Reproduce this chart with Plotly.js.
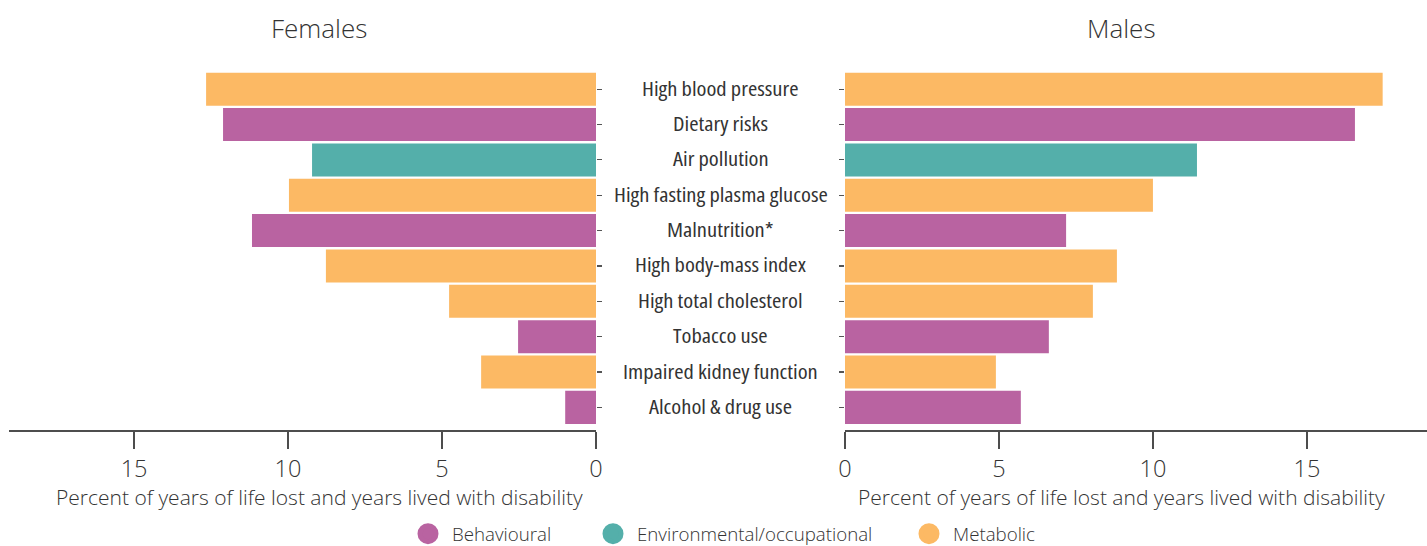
<!DOCTYPE html>
<html>
<head>
<meta charset="utf-8">
<script src="https://cdn.plot.ly/plotly-3.0.1.min.js"></script>
<style>
html,body{margin:0;padding:0;background:#fff;}
#chart{width:1427px;height:546px;}
text[style*="XCond"]{font-stretch:condensed;transform-box:fill-box;transform-origin:center;transform:scaleX(1.1);}
</style>
</head>
<body>
<div id="chart"></div>
<script>
// ---- data ----
var categories = ['High blood pressure','Dietary risks','Air pollution','High fasting plasma glucose','Malnutrition*','High body-mass index','High total cholesterol','Tobacco use','Impaired kidney function','Alcohol & drug use'];
var riskGroups = ['Metabolic','Behavioural','Environmental/occupational','Metabolic','Behavioural','Metabolic','Metabolic','Behavioural','Metabolic','Behavioural'];
var females = [12.66, 12.11, 9.22, 9.97, 11.17, 8.77, 4.77, 2.53, 3.73, 1.0];
var males = [17.46, 16.56, 11.43, 10.0, 7.18, 8.83, 8.05, 6.62, 4.9, 5.71];
var groupNames = ['Behavioural','Environmental/occupational','Metabolic'];
var panelTitles = ['Females','Males'];
var axisTitle = 'Percent of years of life lost and years lived with disability';
var xTicks = [0, 5, 10, 15];

var groupColors = {'Behavioural':'#B963A1','Environmental/occupational':'#54AFAA','Metabolic':'#FCB964'};
var barColors = riskGroups.map(function(g){return groupColors[g];});

var W = 1427, H = 546;
function px(x){return x / W;}
function py(y){return 1 - y / H;}

var lightFont = 'Open Sans, Lato, sans-serif';
var labelFont = '"Open Sans", XCond, "DejaVu Sans Condensed", sans-serif';

var traces = [
  {type:'bar', orientation:'h', x:females, y:categories, xaxis:'x', yaxis:'y',
   marker:{color:barColors, line:{width:0}}, showlegend:false, hoverinfo:'x+y'},
  {type:'bar', orientation:'h', x:males, y:categories, xaxis:'x2', yaxis:'y2',
   marker:{color:barColors, line:{width:0}}, showlegend:false, hoverinfo:'x+y'}
];
var legendIds = ['legend','legend2','legend3'];
var legendX = [404, 589, 905];
groupNames.forEach(function(g, i){
  traces.push({type:'scatter', mode:'markers', x:[null], y:[null], xaxis:'x', yaxis:'y',
    name:g, legend:legendIds[i],
    marker:{color:groupColors[g], size:16, symbol:'circle', line:{color:groupColors[g], width:5}},
    showlegend:true, hoverinfo:'skip'});
});

var tickFont = {family:lightFont, size:23.5, color:'#333', weight:300};
var xCommon = {
  showgrid:false, zeroline:false, showline:true, linecolor:'#4d4d4d', linewidth:2,
  ticks:'outside', ticklen:17, tickwidth:1.5, tickcolor:'#4d4d4d',
  tickvals:xTicks, ticktext:xTicks.map(String), tickfont:tickFont, fixedrange:true
};
var yCommon = {
  type:'category', categoryarray:categories, categoryorder:'array',
  range:[9.64, -0.5], showgrid:false, zeroline:false, showline:false,
  ticks:'outside', ticklen:5, tickwidth:1.2, tickcolor:'#555', showticklabels:false,
  domain:[py(430), py(71.5)], fixedrange:true
};

var layout = {
  width:W, height:H, margin:{l:0, r:0, t:0, b:0, autoexpand:false},
  paper_bgcolor:'#fff', plot_bgcolor:'#fff',
  bargap:0.066,
  xaxis: Object.assign({}, xCommon, {domain:[px(9), px(596)], range:[19.06, 0], anchor:'y'}),
  xaxis2: Object.assign({}, xCommon, {domain:[px(845), px(1427)], range:[0, 18.9], anchor:'y2'}),
  yaxis: Object.assign({}, yCommon, {anchor:'x', side:'right'}),
  yaxis2: Object.assign({}, yCommon, {anchor:'x2', side:'left'}),
  showlegend:true,
  annotations:[]
};
legendIds.forEach(function(id, i){
  layout[id] = {orientation:'h', x:legendX[i]/W, y:py(534), xref:'paper', yref:'paper',
    xanchor:'left', yanchor:'middle', itemwidth:38,
    font:{family:lightFont, size:18.7, color:'#333', weight:300}, bgcolor:'rgba(0,0,0,0)'};
});

// category labels in the middle column
categories.forEach(function(c){
  layout.annotations.push({text:c, x:px(720.5), xref:'paper', y:c, yref:'y', xanchor:'center', yanchor:'middle',
    yshift:1.5, showarrow:false, font:{family:labelFont, size:20.5, color:'#333', weight:480}});
});
// panel titles and axis titles
[319, 1121].forEach(function(cx, i){
  layout.annotations.push({text:panelTitles[i], x:px(cx), y:py(28), xref:'paper', yref:'paper', xanchor:'center', yanchor:'middle', showarrow:false,
    font:{family:lightFont, size:26, color:'#333', weight:300}});
  layout.annotations.push({text:axisTitle, x:px(cx), y:py(497), xref:'paper', yref:'paper', xanchor:'center', yanchor:'middle', showarrow:false,
    font:{family:lightFont, size:21, color:'#333', weight:300}});
});

Plotly.newPlot('chart', traces, layout, {displayModeBar:false, staticPlot:true});
</script>
</body>
</html>
